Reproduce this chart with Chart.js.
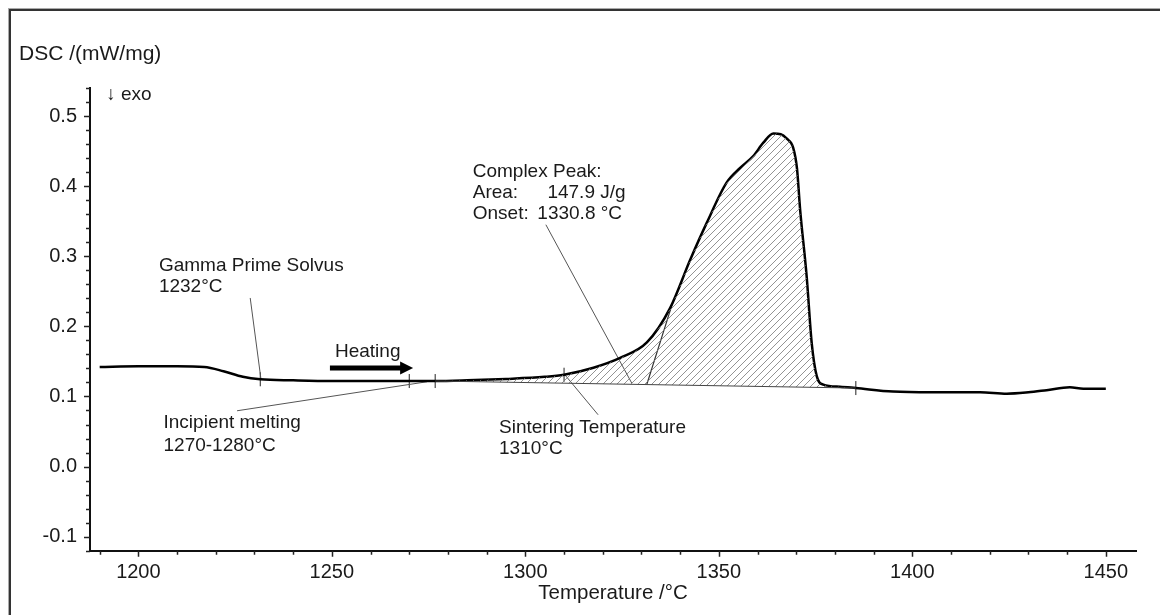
<!DOCTYPE html>
<html>
<head>
<meta charset="utf-8">
<title>DSC heating curve</title>
<script src="https://cdn.jsdelivr.net/npm/chart.js@4.4.1/dist/chart.umd.min.js"></script>
<style>
  html, body { margin: 0; padding: 0; background: #fff; overflow: hidden; }
</style>
</head>
<body>
<canvas id="dsc" width="1160" height="615"></canvas>
<script>
// measured DSC signal (°C, mW/mg)
const temps = [1190, 1200, 1210, 1217, 1222, 1227, 1231.5, 1240, 1250, 1260, 1270, 1276.7,
  1285, 1295, 1305, 1310, 1317.6, 1324.5, 1331.4, 1337.4, 1342.6, 1346.9, 1352, 1355.5,
  1358.9, 1361.5, 1364.1, 1366, 1367.5, 1369.2, 1370.2, 1371, 1372.7, 1374, 1375.3, 1377, 1381.3,
  1385.4, 1395, 1405, 1417.5, 1424.4, 1430, 1434.7, 1440.7, 1444.2, 1450];
const dsc = [0.142, 0.143, 0.143, 0.142, 0.136, 0.128, 0.1245, 0.123, 0.122, 0.122, 0.122, 0.122,
  0.123, 0.125, 0.128, 0.131, 0.141, 0.155, 0.177, 0.226, 0.295, 0.348, 0.405, 0.426,
  0.443, 0.462, 0.475, 0.474, 0.468, 0.455, 0.425, 0.367, 0.271, 0.176, 0.129, 0.117, 0.114,
  0.112, 0.107, 0.106, 0.106, 0.104, 0.106, 0.109, 0.113, 0.111, 0.111];

// peak integration limits and baseline
const peakStart = 1276.7;
const peakEnd = 1385.4;
const baselineT = [1276.7, 1385.4];
const baselineDsc = [0.122, 0.112];

// onset tangent
const onsetT = [1331.4, 1338.2];
const onsetDsc = [0.1174, 0.236];

// evaluated points marked on the curve
const markT = [1231.5, 1270, 1276.7, 1310, 1385.4];
const markDsc = markT.map(t => dsc[temps.indexOf(t)]);

// leader lines from the notes to the curve
const leaders = [
  [[1228.9, 0.2405], [1231.7, 0.1239]],
  [[1225.5, 0.0796], [1274.6, 0.121]],
  [[1310.2, 0.131], [1318.8, 0.0739]],
  [[1305.3, 0.345], [1327.5, 0.119]]
];

const notes = [
  ['Gamma Prime Solvus', 1205.3, 0.287],
  ['1232°C', 1205.3, 0.256],
  ['Incipient melting', 1206.5, 0.062],
  ['1270-1280°C', 1206.5, 0.030],
  ['Heating', 1250.8, 0.164],
  ['Sintering Temperature', 1293.2, 0.056],
  ['1310°C', 1293.2, 0.026],
  ['Complex Peak:', 1286.4, 0.421],
  ['Area:', 1286.4, 0.390],
  ['147.9 J/g', 1305.7, 0.390],
  ['Onset:', 1286.4, 0.360],
  ['1330.8 °C', 1303.1, 0.360],
  ['\u2193 exo', 1191.7, 0.531]
];
const heatingArrow = { from: 1249.5, to: 1271, y: 0.1406 };

const xTicks = [1200, 1250, 1300, 1350, 1400, 1450];
const yTicks = [-0.1, 0.0, 0.1, 0.2, 0.3, 0.4, 0.5];

const FONT = '"Liberation Sans", Arial, sans-serif';
const INK = '#1a1a1a';

const pts = (xs, ys) => xs.map((x, i) => ({ x: x, y: ys[i] }));
const findTick = (list, v) => list.find(t => Math.abs(t - v) < 1e-6);

function hatch() {
  const c = document.createElement('canvas');
  c.width = 7; c.height = 7;
  const g = c.getContext('2d');
  g.strokeStyle = '#777';
  g.lineWidth = 0.8;
  g.beginPath();
  g.moveTo(-1, 8); g.lineTo(8, -1);
  g.moveTo(-1, 1); g.lineTo(1, -1);
  g.moveTo(6, 8); g.lineTo(8, 6);
  g.stroke();
  return g.createPattern(c, 'repeat');
}

// page frame: top and left edges
const frame = {
  id: 'frame',
  beforeDraw(chart) {
    const { ctx, width, height } = chart;
    ctx.save();
    ctx.fillStyle = '#aaa';
    ctx.fillRect(8, 8, width - 8, 1);
    ctx.fillRect(8, 8, 1, height - 8);
    ctx.fillStyle = '#333';
    ctx.fillRect(9, 9, width - 9, 2);
    ctx.fillRect(9, 9, 2, height - 9);
    ctx.restore();
  }
};

// minor/major tick marks, axis titles and notes
const decor = {
  id: 'decor',
  afterDraw(chart) {
    const { ctx, chartArea: a, scales: { x, y } } = chart;
    ctx.save();
    ctx.strokeStyle = '#222';
    ctx.lineWidth = 1.5;
    ctx.beginPath();
    x.ticks.forEach(t => {
      const px = Math.round(x.getPixelForValue(t.value)) + 0.5;
      const len = findTick(xTicks, t.value) !== undefined ? 6 : 4;
      ctx.moveTo(px, a.bottom); ctx.lineTo(px, a.bottom + len);
    });
    y.ticks.forEach(t => {
      const py = Math.round(y.getPixelForValue(t.value)) + 0.5;
      const len = findTick(yTicks, t.value) !== undefined ? 6 : 4;
      ctx.moveTo(a.left, py); ctx.lineTo(a.left - len, py);
    });
    ctx.stroke();

    // heating arrow
    const ay = y.getPixelForValue(heatingArrow.y);
    const ax0 = x.getPixelForValue(heatingArrow.from);
    const ax1 = x.getPixelForValue(heatingArrow.to);
    ctx.fillStyle = '#000';
    ctx.fillRect(ax0, ay - 2.5, ax1 - ax0 - 12, 5);
    ctx.beginPath();
    ctx.moveTo(ax1, ay);
    ctx.lineTo(ax1 - 13, ay - 6.5);
    ctx.lineTo(ax1 - 13, ay + 6.5);
    ctx.closePath();
    ctx.fill();

    ctx.fillStyle = INK;
    ctx.font = '19px ' + FONT;
    ctx.textAlign = 'left';
    ctx.textBaseline = 'middle';
    notes.forEach(([txt, vx, vy]) => {
      ctx.fillText(txt, x.getPixelForValue(vx), y.getPixelForValue(vy));
    });

    ctx.font = '21px ' + FONT;
    ctx.fillText('DSC /(mW/mg)', 19, 54);
    ctx.font = '20.5px ' + FONT;
    ctx.textAlign = 'center';
    ctx.fillText('Temperature /°C', (a.left + a.right) / 2, 593);
    ctx.restore();
  }
};

new Chart(document.getElementById('dsc'), {
  type: 'line',
  data: {
    datasets: [
      {
        data: pts(baselineT, baselineDsc),
        borderColor: '#444', borderWidth: 1, pointRadius: 0, fill: false
      },
      {
        data: pts(temps, dsc).filter(p => p.x >= peakStart && p.x <= peakEnd),
        borderWidth: 0, pointRadius: 0, cubicInterpolationMode: 'monotone',
        backgroundColor: hatch(), fill: 0
      },
      {
        data: pts(temps, dsc),
        borderColor: '#000', borderWidth: 2.5, pointRadius: 0,
        cubicInterpolationMode: 'monotone', fill: false
      },
      {
        data: pts(onsetT, onsetDsc),
        borderColor: '#333', borderWidth: 1.2, pointRadius: 0, fill: false
      },
      ...leaders.map(seg => ({
        data: seg.map(([vx, vy]) => ({ x: vx, y: vy })),
        borderColor: '#555', borderWidth: 1, pointRadius: 0, fill: false
      })),
      {
        data: pts(markT, markDsc),
        showLine: false, pointStyle: 'line', rotation: 90,
        pointRadius: 7, borderColor: '#222', borderWidth: 1
      }
    ]
  },
  options: {
    responsive: false,
    animation: false,
    events: [],
    layout: { padding: { top: 88, right: 24, left: 0, bottom: 0 } },
    plugins: { legend: { display: false }, tooltip: { enabled: false } },
    scales: {
      x: {
        type: 'linear',
        // max kept off a whole number of steps so ticks stay on round values
        min: 1187.5, max: 1457.8,
        afterFit(s) { s.height = 64.3; },
        border: { display: true, color: '#111', width: 2 },
        grid: { display: true, drawOnChartArea: false, drawTicks: false },
        ticks: {
          stepSize: 10, includeBounds: false, autoSkip: false, maxRotation: 0,
          padding: 10, color: INK, font: { family: FONT, size: 20 },
          callback: v => {
            const hit = findTick(xTicks, v);
            return hit === undefined ? '' : String(hit);
          }
        }
      },
      y: {
        type: 'linear',
        min: -0.12, max: 0.54,
        afterFit(s) { s.width = 90; },
        border: { display: true, color: '#111', width: 2 },
        grid: { display: true, drawOnChartArea: false, drawTicks: false },
        ticks: {
          stepSize: 0.02, includeBounds: false, autoSkip: false,
          padding: 13, color: INK, font: { family: FONT, size: 20 },
          callback: v => {
            const hit = findTick(yTicks, v);
            return hit === undefined ? '' : hit.toFixed(1);
          }
        }
      }
    }
  },
  plugins: [frame, decor]
});
</script>
</body>
</html>
